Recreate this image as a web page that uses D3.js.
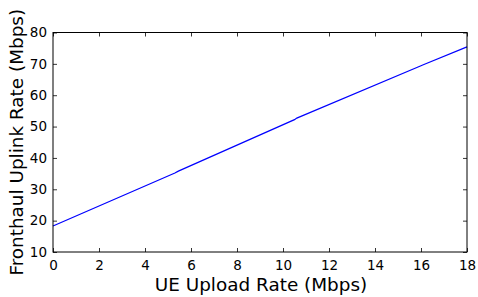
<!DOCTYPE html>
<html>
<head>
<meta charset="utf-8">
<script src="https://cdn.jsdelivr.net/npm/d3@7"></script>
<style>
  body { margin: 0; background: #fff; }
  svg text { font-family: "DejaVu Sans", sans-serif; fill: #000; }
</style>
</head>
<body>
<div id="chart"></div>
<script>
// upload rate (Mbps) vs fronthaul uplink rate (Mbps)
const uploadRate = [0, 5.3, 5.45, 10.5, 10.6, 16.0, 16.1, 18];
const fronthaulRate = [18.3, 35.2, 35.8, 52.2, 52.7, 69.4, 69.7, 75.4];
const xTicks = [0, 2, 4, 6, 8, 10, 12, 14, 16, 18];
const yTicks = [10, 20, 30, 40, 50, 60, 70, 80];

const W = 478, H = 297;
const m = { left: 53, right: 11, top: 32.5, bottom: 45 };
const iw = W - m.left - m.right, ih = H - m.top - m.bottom;

const svg = d3.select('#chart').append('svg')
  .attr('width', W).attr('height', H);

const x = d3.scaleLinear().domain([0, 18]).range([0, iw]);
const y = d3.scaleLinear().domain([10, 80]).range([ih, 0]);

const g = svg.append('g').attr('transform', `translate(${m.left},${m.top})`);

// line
const line = d3.line().x((d, i) => x(uploadRate[i])).y(d => y(d));
g.append('path').datum(fronthaulRate)
  .attr('d', line)
  .attr('fill', 'none').attr('stroke', '#0000ff').attr('stroke-width', 1.2);

// axes, ticks pointing inward
const styleAxis = (sel, labels) => {
  sel.select('.domain').remove();
  sel.selectAll('.tick line').attr('stroke', '#000').attr('stroke-width', 0.8);
  sel.selectAll('.tick text').attr('font-size', '13.5px')
    .style('display', labels ? null : 'none');
};

g.append('g').attr('transform', `translate(0,${ih})`)
  .call(d3.axisBottom(x).tickValues(xTicks).tickSizeInner(-4).tickPadding(8))
  .call(s => styleAxis(s, true));
g.append('g')
  .call(d3.axisTop(x).tickValues(xTicks).tickSizeInner(-4))
  .call(s => styleAxis(s, false));
g.append('g')
  .call(d3.axisLeft(y).tickValues(yTicks).tickSizeInner(-4).tickPadding(6))
  .call(s => styleAxis(s, true));
g.append('g').attr('transform', `translate(${iw},0)`)
  .call(d3.axisRight(y).tickValues(yTicks).tickSizeInner(-4))
  .call(s => styleAxis(s, false));

// frame
g.append('rect').attr('width', iw).attr('height', ih)
  .attr('fill', 'none').attr('stroke', '#000').attr('stroke-width', 1);

// labels
svg.append('text')
  .attr('x', 261).attr('y', 291)
  .attr('text-anchor', 'middle').attr('font-size', '18.4px')
  .text('UE Upload Rate (Mbps)');
svg.append('text')
  .attr('transform', `translate(23,${m.top + ih / 2}) rotate(-90)`)
  .attr('text-anchor', 'middle').attr('font-size', '18.4px')
  .text('Fronthaul Uplink Rate (Mbps)');
</script>
</body>
</html>
